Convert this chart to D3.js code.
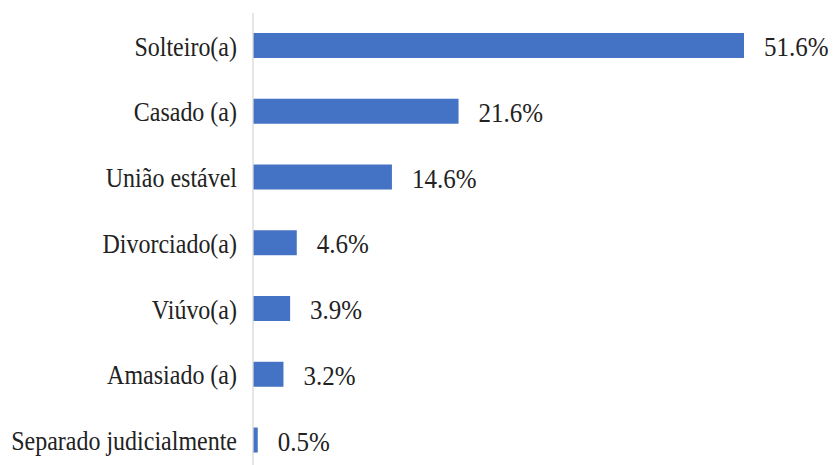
<!DOCTYPE html>
<html>
<head>
<meta charset="utf-8">
<script src="https://cdn.jsdelivr.net/npm/d3@7"></script>
<style>
  html, body { margin: 0; padding: 0; background: #ffffff; }
  svg { display: block; }
  .chart-text { font-family: "Liberation Serif", "Times New Roman", serif; }
</style>
</head>
<body>
<svg id="chart" width="835" height="465"></svg>
<script>
// Estado civil dos respondentes (%)
const categories = [
  "Solteiro(a)",
  "Casado (a)",
  "União estável",
  "Divorciado(a)",
  "Viúvo(a)",
  "Amasiado (a)",
  "Separado judicialmente"
];
const values = [51.6, 21.6, 14.6, 4.6, 3.9, 3.2, 0.5];
const valueLabels = ["51.6%", "21.6%", "14.6%", "4.6%", "3.9%", "3.2%", "0.5%"];

const TEXT_COLOR = "#222222";
const FONT_SIZE = 24;
const STRETCH = "scale(1,1.12)";

const svg = d3.select("#chart");
const axisX = 253;

const x = d3.scaleLinear()
  .domain([0, 51.6])
  .range([axisX, 744]);

const y = d3.scaleBand()
  .domain(categories)
  .range([12.6, 472.9])
  .paddingInner(0.62)
  .paddingOuter(0.31);

const rows = categories.map((c, i) => ({ cat: c, v: values[i], label: valueLabels[i] }));

// bars
svg.append("g")
  .selectAll("rect")
  .data(rows)
  .join("rect")
  .attr("x", x(0))
  .attr("y", d => y(d.cat))
  .attr("width", d => x(d.v) - x(0))
  .attr("height", y.bandwidth())
  .attr("fill", "#4472C4");

// vertical category axis (line only, no ticks)
const yAxis = d3.axisLeft(y).tickSize(0).tickPadding(16);
const gy = svg.append("g")
  .attr("transform", `translate(${axisX},0)`)
  .call(yAxis)
  .attr("font-family", null)
  .attr("font-size", null);
gy.select(".domain")
  .attr("d", "M0,13V465")
  .attr("stroke", "#d9d9d9")
  .attr("stroke-width", 1.3);
gy.selectAll(".tick text")
  .attr("class", "chart-text")
  .attr("font-size", FONT_SIZE)
  .attr("fill", TEXT_COLOR)
  .attr("dy", "0.38em")
  .attr("transform", STRETCH);

// value labels
svg.append("g")
  .selectAll("g")
  .data(rows)
  .join("g")
  .attr("transform", d => `translate(${x(d.v) + 20},${y(d.cat) + y.bandwidth() / 2}) ${STRETCH}`)
  .append("text")
  .attr("class", "chart-text")
  .attr("dy", "0.38em")
  .attr("font-size", FONT_SIZE + 1)
  .attr("fill", TEXT_COLOR)
  .text(d => d.label);
</script>
</body>
</html>
